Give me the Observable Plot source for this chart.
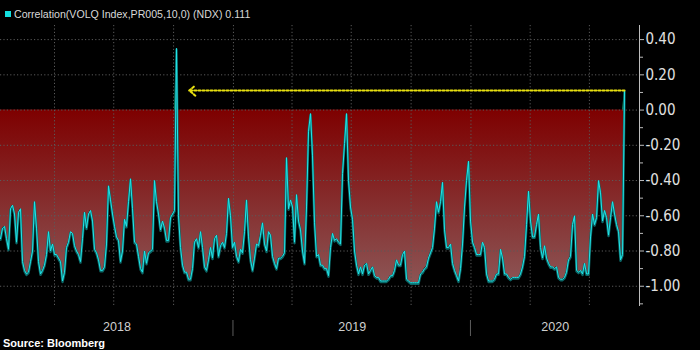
<!DOCTYPE html>
<html><head><meta charset="utf-8">
<script src="https://cdn.jsdelivr.net/npm/d3@7"></script>
<script src="https://cdn.jsdelivr.net/npm/@observablehq/plot@0.6"></script>
<style>
html,body{margin:0;padding:0;background:#000;}
body{width:700px;height:350px;overflow:hidden;font-family:"Liberation Sans",Arial,sans-serif;}
#legend{position:relative;height:24px;}
#legend .sw{position:absolute;left:5px;top:11px;width:6px;height:6px;background:#14e0e0;}
#legend .tx{position:absolute;left:14px;top:7px;font-size:10.6px;line-height:14px;color:#d8d8d8;white-space:nowrap;}
#chart{height:313px;}
#footer{height:13px;line-height:13px;padding-left:3px;color:#fff;font-weight:bold;font-size:11px;white-space:nowrap;}
</style></head><body>
<div id="legend"><span class="sw"></span><span class="tx" id="legendText"></span></div>
<div id="chart"></div>
<div id="footer">Source: Bloomberg</div>
<script>
// ---- data ----
const seriesLabel = "Correlation(VOLQ Index,PR005,10,0) (NDX)";
const startDate = "2018-01-08";
const endDate = "2020-08-24";
const viewEnd = "2020-09-16";
const correlation = [
 -0.73,-0.67,-0.66,-0.73,-0.79,-0.56,-0.54,-0.59,-0.75,-0.58,-0.56,-0.86,-0.91,-0.93,-0.92,-0.86,-0.80,-0.52,-0.67,-0.86,
 -0.93,-0.91,-0.88,-0.82,-0.69,-0.80,-0.76,-0.82,-0.82,-0.84,-0.86,-0.97,-0.92,-0.78,-0.75,-0.69,-0.70,-0.77,-0.80,-0.82,
 -0.86,-0.73,-0.58,-0.67,-0.59,-0.57,-0.63,-0.79,-0.81,-0.85,-0.91,-0.91,-0.89,
 -0.76,-0.43,-0.51,-0.59,-0.66,-0.72,-0.74,-0.86,-0.80,-0.62,-0.66,-0.52,-0.39,-0.56,-0.75,-0.76,-0.83,-0.90,-0.92,-0.80,
 -0.87,-0.81,-0.80,-0.79,-0.40,-0.52,-0.59,-0.68,-0.63,-0.67,-0.74,-0.74,-0.61,-0.59,-0.57,0.35,-0.60,-0.78,-0.88,-0.92,
 -0.92,-0.96,-0.96,-0.90,-0.75,-0.73,-0.78,-0.69,-0.78,-0.89,-0.91,-0.85,
 -0.78,-0.84,-0.73,-0.71,-0.83,-0.77,-0.75,-0.78,-0.70,-0.50,-0.60,-0.78,-0.75,-0.83,-0.86,-0.79,-0.81,-0.69,-0.51,-0.72,
 -0.85,-0.91,-0.84,-0.76,-0.77,-0.71,-0.64,-0.76,-0.80,-0.69,-0.71,-0.83,-0.87,-0.90,-0.84,-0.84,-0.83,-0.81,-0.27,-0.56,
 -0.51,-0.55,-0.75,-0.48,-0.63,-0.68,-0.80,-0.87,-0.55,-0.12,-0.02,-0.26,-0.64,
 -0.83,-0.82,-0.88,-0.88,-0.90,-0.90,-0.94,-0.78,-0.70,-0.74,-0.73,-0.75,-0.76,-0.36,-0.19,-0.02,-0.40,-0.55,-0.62,-0.80,
 -0.88,-0.93,-0.89,-0.93,-0.88,-0.87,-0.93,-0.91,-0.89,-0.94,-0.95,-0.95,-0.97,-0.97,-0.97,-0.97,-0.96,-0.94,-0.94,-0.91,
 -0.85,-0.88,-0.88,-0.82,-0.80,-0.96,-0.97,-0.98,-0.98,-0.98,-0.98,-0.98,
 -0.93,-0.92,-0.90,-0.89,-0.84,-0.81,-0.78,-0.67,-0.52,-0.58,-0.52,-0.41,-0.68,-0.78,-0.78,-0.76,-0.87,-0.91,-0.94,-0.97,
 -0.90,-0.76,-0.55,-0.40,-0.29,-0.63,-0.75,-0.78,-0.82,-0.82,-0.82,-0.75,-0.78,-0.93,-0.97,-0.97,-0.97,-0.96,-0.93,-0.93,
 -0.79,-0.84,-0.93,-0.93,-0.95,-0.96,-0.95,-0.95,-0.95,-0.95,-0.93,-0.89,-0.83,
 -0.65,-0.46,-0.63,-0.72,-0.72,-0.65,-0.59,-0.78,-0.84,-0.77,-0.84,-0.87,-0.89,-0.89,-0.90,-0.89,-0.95,-0.96,-0.96,-0.95,
 -0.92,-0.85,-0.83,-0.65,-0.60,-0.91,-0.92,-0.91,-0.93,-0.87,-0.93,-0.93,-0.72,-0.59,-0.65,-0.61,-0.40,-0.47,-0.63,-0.57,
 -0.61,-0.71,-0.61,-0.52,-0.59,-0.65,-0.69,-0.85,-0.82,0.111
];
const lastValue = 0.111;
const arrowTipDate = "2018-10-25";
const yTicks = [-1.0,-0.8,-0.6,-0.4,-0.2,0.0,0.2,0.4];
const yMinorTicks = [-1.1,-0.9,-0.7,-0.5,-0.3,-0.1,0.1,0.3];
const yearLabels = ["2018","2019","2020"];

// ---- build ----
document.getElementById("legendText").textContent = seriesLabel + " " + lastValue.toFixed(3);
const t0 = new Date(startDate).getTime(), t1 = new Date(endDate).getTime();
const n = correlation.length;
const data = correlation.map((v, i) => ({date: new Date(t0 + i * (t1 - t0) / (n - 1)), value: v}));
const xStart = new Date(startDate), xEnd = new Date(viewEnd);
const yearStarts = yearLabels.map(y => new Date(y + "-01-01"));
const yearMid = yearLabels.map((y, i) => {
  const a = Math.max(yearStarts[i].getTime(), xStart.getTime());
  const b = i + 1 < yearLabels.length ? yearStarts[i + 1].getTime() : xEnd.getTime();
  return {label: y, date: new Date((a + b) / 2)};
});
const quarters = d3.utcMonth.every(3).range(xStart, xEnd);
const lastDate = data[n - 1].date;

const W = 700, H = 313;
const chart = Plot.plot({
  width: W, height: H,
  marginTop: 1, marginBottom: 31, marginLeft: 0, marginRight: 61,
  style: {background: "#000", color: "#d8d8d8", fontFamily: "'Liberation Sans', Arial, sans-serif"},
  x: {type: "utc", domain: [xStart, xEnd], axis: null},
  y: {domain: [-1.115, 0.48], axis: null},
  marks: [
    Plot.areaY(data, {x: "date", y1: 0, y2: d => Math.min(0, d.value), fill: "url(#redfill)", curve: "linear"}),
    Plot.areaY(data, {x: "date", y1: 0, y2: d => Math.max(0, d.value), fill: "#13885a"}),
    Plot.ruleY(yTicks, {stroke: "#5a5a5a", strokeDasharray: "1.2,2.2", strokeWidth: 1}),
    Plot.ruleX(quarters, {stroke: "#5a5a5a", strokeDasharray: "1.2,2.2", strokeWidth: 1}),
    Plot.lineY(data, {x: "date", y: "value", stroke: "#0b6767", strokeWidth: 2.4, dy: 1}),
    Plot.lineY(data, {x: "date", y: "value", stroke: "#22e6ea", strokeWidth: 1}),
    Plot.arrow([{a: lastDate, b: new Date(arrowTipDate), v: lastValue}], {
      x1: "a", x2: "b", y1: "v", y2: "v", stroke: "#e8e010", strokeWidth: 2,
      strokeDasharray: "2,2", headLength: 6, headAngle: 80, bend: 0
    }),
    Plot.ruleX([xEnd], {stroke: "#bdbdbd", strokeWidth: 1}),
    Plot.axisY({anchor: "right", ticks: yMinorTicks, tickSize: 3, tickFormat: () => "", stroke: "#bdbdbd"}),
    Plot.axisY({anchor: "right", ticks: yTicks, tickSize: 4, tickPadding: 2, tickFormat: d => d.toFixed(2),
      stroke: "#bdbdbd", fill: "#e0e0e0", fontSize: 15, fontFamily: "'Liberation Sans Narrow', 'DejaVu Sans Condensed', 'Liberation Sans', sans-serif", label: null}),
    Plot.text(yearMid, {x: "date", text: "label", frameAnchor: "bottom", dy: 24, fill: "#cfcfcf", fontSize: 12.5})
  ]
});

// gradient fill + year separators drawn through Plot's scales
const svg = d3.select(chart);
const ys = chart.scale("y"), xs = chart.scale("x");
const defs = svg.insert("defs", ":first-child");
const g = defs.append("linearGradient").attr("id", "redfill").attr("gradientUnits", "userSpaceOnUse")
  .attr("x1", 0).attr("x2", 0).attr("y1", ys.apply(0)).attr("y2", ys.apply(-1));
g.append("stop").attr("offset", 0).attr("stop-color", "#7e0000");
g.append("stop").attr("offset", 1).attr("stop-color", "#8c5656");
const yb = H - 31;
svg.append("g").selectAll("line").data(yearStarts.filter(d => d > xStart)).join("line")
  .attr("x1", d => xs.apply(d)).attr("x2", d => xs.apply(d))
  .attr("y1", yb + 14).attr("y2", yb + 30).attr("stroke", "#5c5c5c");
document.getElementById("chart").appendChild(chart);
</script>
</body></html>
